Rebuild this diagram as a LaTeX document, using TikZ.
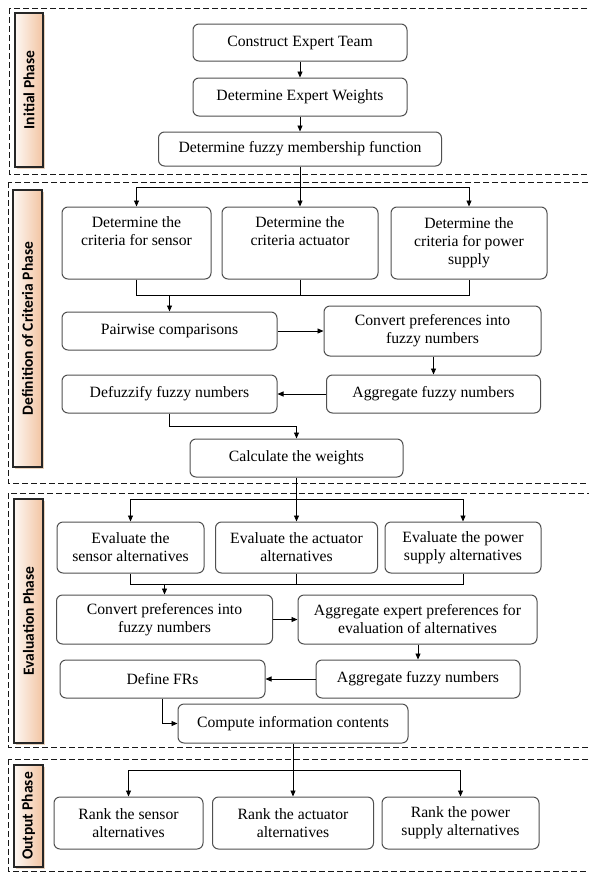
\documentclass[tikz,border=0pt]{standalone}
\usepackage{fontspec}
\setmainfont{Liberation Serif}
\newfontfamily\labfont{Carlito}
\usetikzlibrary{arrows.meta}
\definecolor{peach}{HTML}{F2C4A2}
\definecolor{boxline}{HTML}{505050}
\begin{document}
\begin{tikzpicture}[x=1pt,y=-1pt,
  box/.style={draw=boxline, line width=1pt, rounded corners=6pt, fill=white, align=center, inner sep=0pt, font=\fontsize{15.7}{18}\selectfont},
  arr/.style={-{Triangle[length=6pt,width=5pt]}, line width=0.9pt},
  ln/.style={line width=0.9pt},
  phase/.style={dash pattern=on 6pt off 3pt, line width=1pt, draw=black!90},
  lab/.style={draw=black!85, line width=1.2pt, left color=peach!12, right color=peach, inner sep=0pt},
  labtext/.style={rotate=90, font=\labfont\bfseries\fontsize{15.5}{18}\selectfont},
  shad/.style={fill=brown!35}
]
\useasboundingbox (0,0) rectangle (589,873);
\begin{scope}
\clip (0,0) rectangle (589,873);
% phase frames
\draw[phase] (9,8) rectangle (600,174);
\draw[phase] (8,182) rectangle (600,483);
\draw[phase] (8,493) rectangle (600,747);
\draw[phase] (8,759) rectangle (600,871);
\end{scope}

% phase labels
\fill[shad] (17,15) rectangle (45,169);
\node[lab, minimum width=28pt, minimum height=154pt] (L1) at (29,90) {};
\node[labtext] (T1) at (L1) {Initial Phase};
\fill[shad] (15,192) rectangle (44,469);
\node[lab, minimum width=29pt, minimum height=277pt] (L2) at (27.5,328.5) {};
\node[labtext] (T2) at (L2) {Definition of Criteria Phase};
\fill[shad] (16,501) rectangle (45,745);
\node[lab, minimum width=29pt, minimum height=244pt] (L3) at (28.5,621) {};
\node[labtext] (T3) at (L3) {Evaluation Phase};
\fill[shad] (16,767) rectangle (45,869);
\node[lab, minimum width=29pt, minimum height=102pt] (L4) at (28.5,816) {};
\node[labtext] (T4) at (L4) {Output Phase};

% Initial phase
\node[box, minimum width=214pt, minimum height=37pt] (c1) at (300,42.5) {Construct Expert Team};
\node[box, minimum width=214pt, minimum height=38pt] (c2) at (300,97) {Determine Expert Weights};
\node[box, minimum width=283pt, minimum height=34pt] (c3) at (300,149) {Determine fuzzy membership function};

% Definition of criteria phase
\node[box, minimum width=149pt, minimum height=72pt] (d1) at (136.5,243) {Determine the\\criteria for sensor\\\strut};
\node[box, minimum width=156pt, minimum height=72pt] (d2) at (300,243) {Determine the\\criteria actuator\\\strut};
\node[box, minimum width=156pt, minimum height=72pt] (d3) at (469,243) {Determine the\\criteria for power\\supply};
\node[box, minimum width=215pt, minimum height=38pt] (pw) at (169.5,331) {Pairwise comparisons};
\node[box, minimum width=217pt, minimum height=50pt] (cv) at (432.5,331) {Convert preferences into\\fuzzy numbers};
\node[box, minimum width=214pt, minimum height=38pt] (ag) at (433.5,394) {Aggregate fuzzy numbers};
\node[box, minimum width=215pt, minimum height=38pt] (df) at (169.5,394) {Defuzzify fuzzy numbers};
\node[box, minimum width=213pt, minimum height=38pt] (cw) at (296.5,458) {Calculate the weights};

% Evaluation phase
\node[box, minimum width=147pt, minimum height=51pt] (e1) at (130.5,547.5) {Evaluate the\\sensor alternatives};
\node[box, minimum width=162pt, minimum height=51pt] (e2) at (296.5,547.5) {Evaluate the actuator\\alternatives};
\node[box, minimum width=156pt, minimum height=51pt] (e3) at (463,547.5) {Evaluate the power\\supply alternatives};
\node[box, minimum width=216pt, minimum height=49pt] (ec) at (164.5,619.5) {Convert preferences into\\fuzzy numbers};
\node[box, minimum width=239pt, minimum height=49pt] (ea) at (417.5,619.5) {Aggregate expert preferences for\\evaluation of alternatives};
\node[box, minimum width=204pt, minimum height=38pt] (ef) at (418,679) {Aggregate fuzzy numbers};
\node[box, minimum width=205pt, minimum height=38pt] (fr) at (162.5,679) {Define FRs};
\node[box, minimum width=230pt, minimum height=39pt] (ci) at (293,723.5) {Compute information contents};

% Output phase
\node[box, minimum width=149pt, minimum height=52pt] (o1) at (128.5,823) {Rank the sensor\\alternatives};
\node[box, minimum width=161pt, minimum height=52pt] (o2) at (293,823) {Rank the actuator\\alternatives};
\node[box, minimum width=157pt, minimum height=52pt] (o3) at (460.5,823) {Rank the power\\supply alternatives};

% connectors: initial
\draw[arr] (c1) -- (c2);
\draw[arr] (c2) -- (c3);
\coordinate (j1) at (300,187);
\draw[arr] (c3) -- (d2);
\draw[arr] (j1) -| (d1.north);
\draw[arr] (j1) -| (d3.north);
% collector
\coordinate (j2) at (169.5,295);
\draw[ln] (d1.south) |- (d3.south |- j2) -- (d3.south);
\draw[ln] (d2.south) -- (d2.south |- j2);
\draw[arr] (j2) -- (pw.north);
\draw[arr] (pw) -- (cv);
\draw[arr] (cv.south -| ag.north) -- (ag.north);
\draw[arr] (ag) -- (df);
\coordinate (j3) at (296.5,426);
\draw[arr] (df.south) |- (j3) -- (cw.north);
% evaluation
\coordinate (j4) at (296.5,499);
\draw[arr] (cw) -- (e2);
\draw[arr] (j4) -| (e1.north);
\draw[arr] (j4) -| (e3.north);
\coordinate (j5) at (164.5,584);
\draw[ln] (e1.south) |- (e3.south |- j5) -- (e3.south);
\draw[ln] (e2.south) -- (e2.south |- j5);
\draw[arr] (j5) -- (ec.north);
\draw[arr] (ec) -- (ea);
\draw[arr] (ea.south -| ef.north) -- (ef.north);
\draw[arr] (ef) -- (fr);
\draw[arr] (fr.south) |- (ci.west);
% output
\coordinate (j6) at (293,770);
\draw[arr] (ci) -- (o2);
\draw[arr] (j6) -| (o1.north);
\draw[arr] (j6) -| (o3.north);
\end{tikzpicture}
\end{document}
